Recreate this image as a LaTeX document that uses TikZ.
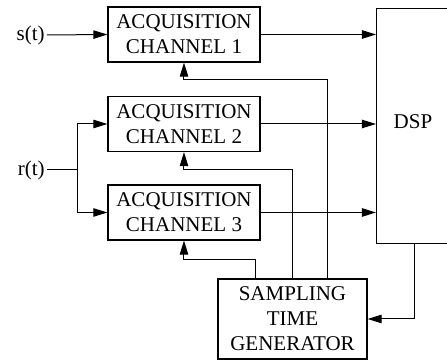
\documentclass[tikz,border=0pt]{standalone}
\usepackage{fontspec}
\setmainfont{Liberation Serif}
\newfontfamily\blkfont{Liberation Serif}
\usetikzlibrary{arrows.meta,calc,positioning}

\begin{document}
\begin{tikzpicture}[x=0.5pt,y=-0.5pt,
  blk/.style={draw,line width=0.6pt,align=center,inner sep=0pt,
    font=\blkfont\fontsize{10.5}{12.5}\selectfont},
  chan/.style={blk,minimum width=76pt,minimum height=27.5pt},
  arr/.style={-{Triangle[length=7pt,width=4.2pt]},line width=0.5pt},
  lbl/.style={font=\blkfont\fontsize{10.5}{12.5}\selectfont,inner sep=1pt}]
\useasboundingbox (0,0) rectangle (447,362);

% blocks
\node[chan] (ch1) at (184,34.5) {ACQUISITION\\CHANNEL 1};
\node[chan] (ch2) at (184,124) {ACQUISITION\\CHANNEL 2};
\node[chan] (ch3) at (184,212.5) {ACQUISITION\\CHANNEL 3};
\node[blk,minimum width=37pt,minimum height=117.5pt,anchor=north west] (dsp) at (376,8) {};
\node[lbl] (dsplbl) at (413,122) {DSP};
\node[blk,minimum width=74.5pt,minimum height=40pt] (stg) at (292.5,319) {SAMPLING\\TIME\\GENERATOR};

% inputs
\node[lbl,anchor=east] (s) at (47,35) {s(t)};
\node[lbl,anchor=east] (r) at (47,170) {r(t)};
\coordinate (split) at (78,170);

\draw[arr] (s.east) -- (ch1.west);
\draw[line width=0.5pt] (r.east) -- (split);
\draw[arr] (split) |- (ch2.west);
\draw[arr] (split) |- (ch3.west);

% channels to DSP
\draw[arr] (ch1.east) -- (ch1.east -| dsp.west);
\draw[arr] (ch2.east) -- (ch2.east -| dsp.west);
\draw[arr] (ch3.east) -- (ch3.east -| dsp.west);

% sampling clocks
\coordinate (t1) at ($(stg.north)+(35.5,0)$);
\coordinate (t2) at (stg.north);
\coordinate (t3) at ($(stg.north)+(-36.5,0)$);
\draw[arr] (t1) |- ($(ch1.south)+(0,17)$) -- (ch1.south);
\draw[arr] (t2) |- ($(ch2.south)+(0,17)$) -- (ch2.south);
\draw[arr] (t3) |- ($(ch3.south)+(0,19)$) -- (ch3.south);

% DSP control
\draw[arr] ($(dsp.south)+(1,0)$) |- (stg.east);
\end{tikzpicture}
\end{document}
